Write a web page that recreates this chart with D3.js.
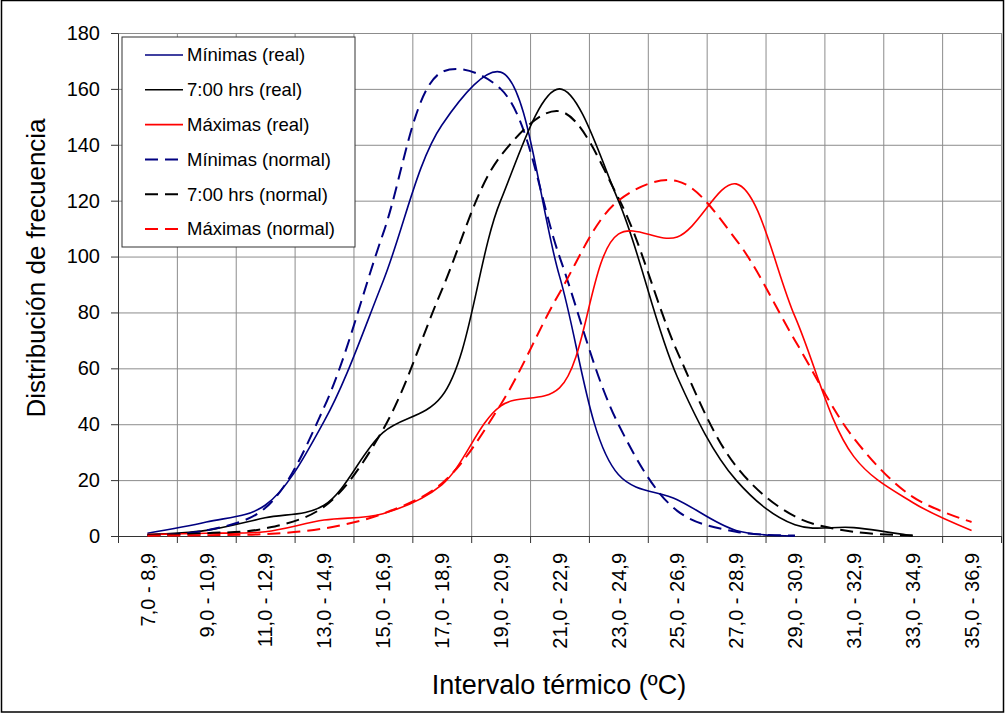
<!DOCTYPE html>
<html>
<head>
<meta charset="utf-8">
<script src="https://cdn.jsdelivr.net/npm/d3@7"></script>
<style>
  body { margin: 0; background: #fff; }
  svg { display: block; font-family: "Liberation Sans", Arial, sans-serif; }
  .axis path, .axis line { stroke: #333; }
  .grid line { stroke: #8c8c8c; stroke-width: 1; }
</style>
</head>
<body>
<div id="vis"></div>
<script>
// categories (2-degree intervals)
var intervals = ["7,0 - 8,9", "9,0 - 10,9", "11,0 - 12,9", "13,0 - 14,9", "15,0 - 16,9",
  "17,0 - 18,9", "19,0 - 20,9", "21,0 - 22,9", "23,0 - 24,9", "25,0 - 26,9",
  "27,0 - 28,9", "29,0 - 30,9", "31,0 - 32,9", "33,0 - 34,9", "35,0 - 36,9"];

// frequencies
var minReal   = [1, 5, 11, 41, 91, 147, 166, 93, 22, 13, 2, 0];
var minNormal = [0.3, 2, 10, 46, 108, 166, 160, 100, 40, 9, 1.5, 0.2];
var sieteReal   = [0.5, 2, 6.5, 11, 37, 50, 120, 160, 120, 57, 20, 4, 3, 0];
var sieteNormal = [0.3, 1, 2.7, 10.5, 38, 88, 136, 152, 121, 66, 25, 7, 1.5, 0.3];
var maxReal   = [0.5, 1, 1.5, 5.7, 8, 18.3, 46.5, 53, 108, 107, 126, 78.5, 28.4, 12, 2];
var maxNormal = [0.1, 0.3, 0.7, 2.7, 8, 18.8, 47, 87, 120, 127, 106, 70, 35, 14, 5];

var yTicks = [0, 20, 40, 60, 80, 100, 120, 140, 160, 180];

var series = [
  {name: "Mínimas (real)", values: minReal, color: "#000080", dash: null},
  {name: "7:00 hrs (real)", values: sieteReal, color: "#000000", dash: null},
  {name: "Máximas (real)", values: maxReal, color: "#ff0000", dash: null},
  {name: "Mínimas (normal)", values: minNormal, color: "#000080", dash: "13,7"},
  {name: "7:00 hrs (normal)", values: sieteNormal, color: "#000000", dash: "13,7"},
  {name: "Máximas (normal)", values: maxNormal, color: "#ff0000", dash: "13,7"}
];

var svgWidth = 1005, svgHeight = 713;
var svg = d3.select('#vis').append('svg')
  .attr('width', svgWidth)
  .attr('height', svgHeight);

// outer chart border
svg.append('rect')
  .attr('x', 1.5).attr('y', 0.5)
  .attr('width', svgWidth - 3).attr('height', svgHeight - 1.5)
  .attr('fill', 'white')
  .attr('stroke', 'black')
  .attr('stroke-width', 1.5);

var plot = {left: 118, top: 33, right: 1001, bottom: 536};

var xScale = d3.scaleBand().domain(intervals).range([plot.left, plot.right]).padding(0);
var xEdges = d3.scaleLinear().domain([0, intervals.length]).range([plot.left, plot.right]);
var yScale = d3.scaleLinear().domain([0, 180]).range([plot.bottom, plot.top]);

// gridlines
svg.append('g')
  .attr('class', 'grid')
  .attr('transform', 'translate(' + plot.left + ',0)')
  .call(d3.axisLeft(yScale).tickValues(yTicks).tickSize(-(plot.right - plot.left)).tickFormat(''))
  .call(function (g) { g.select('.domain').remove(); });

svg.append('g')
  .attr('class', 'grid')
  .attr('transform', 'translate(0,' + plot.bottom + ')')
  .call(d3.axisBottom(xEdges).tickValues(d3.range(1, intervals.length + 1)).tickSize(-(plot.bottom - plot.top)).tickFormat(''))
  .call(function (g) { g.select('.domain').remove(); });

// y axis
var yAxis = svg.append('g')
  .attr('class', 'axis')
  .attr('transform', 'translate(' + plot.left + ',0)')
  .call(d3.axisLeft(yScale).tickValues(yTicks).tickSize(7).tickSizeOuter(0).tickPadding(11));
yAxis.selectAll('text')
  .style('font-size', '20px')
  .attr('fill', 'black');

// x axis: tick marks on the category edges
svg.append('g')
  .attr('class', 'axis')
  .attr('transform', 'translate(0,' + plot.bottom + ')')
  .call(d3.axisBottom(xEdges).tickValues(d3.range(0, intervals.length + 1)).tickSize(7).tickSizeOuter(0).tickFormat(''));

// x labels, rotated, at category centres
var xLab = svg.append('g')
  .attr('transform', 'translate(0,' + plot.bottom + ')')
  .call(d3.axisBottom(xScale).tickSize(0).tickPadding(0));
xLab.select('.domain').remove();
xLab.selectAll('text')
  .style('font-size', '20px')
  .attr('fill', 'black')
  .attr('text-anchor', 'end')
  .attr('transform', 'translate(0,17) rotate(-90)')
  .attr('x', 0)
  .attr('y', 0)
  .attr('dy', '0.36em');

// lines, smoothed
var makeLine = d3.line()
  .x(function (d, i) { return xScale(intervals[i]) + xScale.bandwidth() / 2; })
  .y(function (d) { return yScale(d); })
  .curve(d3.curveCatmullRom.alpha(0.5));

svg.selectAll('.serie')
  .data(series)
  .enter().append('path')
  .attr('class', 'serie')
  .attr('d', function (d) { return makeLine(d.values); })
  .attr('fill', 'none')
  .attr('stroke', function (d) { return d.color; })
  .attr('stroke-width', function (d) { return d.dash ? 2 : 1.6; })
  .attr('stroke-dasharray', function (d) { return d.dash; });

// axis titles
svg.append('text')
  .attr('transform', 'translate(45,268) rotate(-90)')
  .attr('text-anchor', 'middle')
  .style('font-size', '26px')
  .text('Distribución de frecuencia');

svg.append('text')
  .attr('x', 559)
  .attr('y', 694)
  .attr('text-anchor', 'middle')
  .style('font-size', '27px')
  .text('Intervalo térmico (ºC)');

// legend
var legend = svg.append('g').attr('transform', 'translate(122,37)');
legend.append('rect')
  .attr('width', 233).attr('height', 210)
  .attr('fill', 'white')
  .attr('stroke', '#333')
  .attr('stroke-width', 1);

var rows = legend.selectAll('.row')
  .data(series)
  .enter().append('g')
  .attr('class', 'row')
  .attr('transform', function (d, i) { return 'translate(0,' + (18 + i * 34.8) + ')'; });

rows.append('line')
  .attr('x1', 23).attr('x2', 61)
  .attr('stroke', function (d) { return d.color; })
  .attr('stroke-width', function (d) { return d.dash ? 2 : 1.6; })
  .attr('stroke-dasharray', function (d) { return d.dash; });

rows.append('text')
  .attr('x', 65)
  .attr('dy', '0.35em')
  .style('font-size', '18.5px')
  .text(function (d) { return d.name; });
</script>
</body>
</html>
